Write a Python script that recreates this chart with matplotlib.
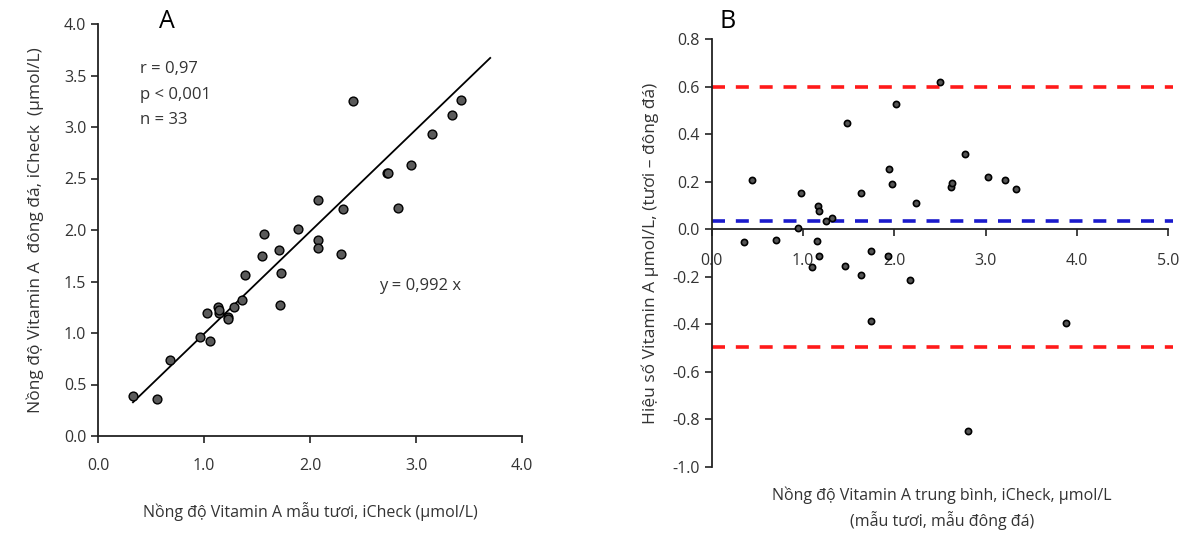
import numpy as np
import matplotlib
matplotlib.use("Agg")
import matplotlib.pyplot as plt

plt.rcParams['font.family'] = ['Open Sans', 'DejaVu Sans']

# Panel A: fresh vs frozen (umol/L)
fresh = [0.33, 0.56, 0.68, 0.96, 1.06, 1.03, 1.13, 1.14, 1.23, 1.23, 1.28,
         1.36, 1.39, 1.55, 1.57, 1.71, 1.73, 1.72, 1.89, 2.08, 2.08, 2.08,
         2.29, 2.31, 2.41, 2.73, 2.74, 2.83, 2.95, 3.15, 3.34, 3.42, 1.14]
frozen = [0.39, 0.36, 0.74, 0.96, 0.92, 1.19, 1.25, 1.19, 1.16, 1.14, 1.25,
          1.32, 1.56, 1.75, 1.96, 1.81, 1.58, 1.27, 2.01, 2.29, 1.90, 1.83,
          1.77, 2.20, 3.25, 2.55, 2.55, 2.21, 2.63, 2.93, 3.12, 3.26, 1.22]
slope = 0.992
fit_range = [0.33, 3.7]

# Panel B: Bland-Altman
mean_val = [0.35, 0.445, 0.70, 0.94, 0.975, 1.095, 1.15, 1.16, 1.18, 1.18,
            1.25, 1.32, 1.46, 1.48, 1.64, 1.64, 1.74, 1.75, 1.93, 1.945,
            1.975, 2.015, 2.17, 2.24, 2.50, 2.62, 2.635, 2.77, 2.81, 3.03,
            3.215, 3.33, 3.88]
diff_val = [-0.055, 0.209, -0.046, 0.007, 0.154, -0.16, -0.05, 0.10, 0.077,
            -0.114, 0.035, 0.048, -0.156, 0.449, 0.154, -0.19, -0.093, -0.384,
            -0.111, 0.255, 0.189, 0.526, -0.215, 0.112, 0.619, 0.180, 0.195,
            0.317, -0.849, 0.220, 0.209, 0.170, -0.393]
upper_loa = 0.598
mean_diff = 0.036
lower_loa = -0.497

txt_col = '#333333'

fig = plt.figure(figsize=(11.86, 5.34), dpi=100)

# ---- A ----
axA = fig.add_axes([98/1186, 1-436/534, 424/1186, 412/534])
axA.scatter(fresh, frozen, s=40, facecolor='#5a5a5a', edgecolor='black', linewidth=1.0, zorder=3)
xs = np.array(fit_range)
axA.plot(xs, slope*xs, color='black', lw=1.3)
axA.set_xlim(0, 4)
axA.set_ylim(0, 4)
axA.set_xticks(np.arange(0, 4.01, 1.0))
axA.set_yticks(np.arange(0, 4.01, 0.5))
axA.set_xticklabels(['%.1f' % v for v in np.arange(0, 4.01, 1.0)])
axA.set_yticklabels(['%.1f' % v for v in np.arange(0, 4.01, 0.5)])
for s in ['top', 'right']:
    axA.spines[s].set_visible(False)
for s in ['left', 'bottom']:
    axA.spines[s].set_linewidth(1.3)
    axA.spines[s].set_color('#222222')
axA.tick_params(labelsize=11.5, length=5, width=1.2, color='#222222', labelcolor=txt_col)
axA.tick_params(axis='x', pad=11)
axA.set_xlabel('Nồng độ Vitamin A mẫu tươi, iCheck (µmol/L)', fontsize=11.5, color=txt_col, labelpad=20)
axA.set_ylabel('Nồng độ Vitamin A  đông đá, iCheck  (µmol/L)', fontsize=12.5, color=txt_col, labelpad=14)
axA.text(0.4, 3.56, 'r = 0,97', fontsize=12, color=txt_col, va='center')
axA.text(0.4, 3.31, 'p < 0,001', fontsize=12, color=txt_col, va='center')
axA.text(0.4, 3.07, 'n = 33', fontsize=12, color=txt_col, va='center')
axA.text(2.65, 1.46, 'y = 0,992 x', fontsize=12, color=txt_col, va='center')
fig.text(167/1186, 1-22/534, 'A', fontsize=18, ha='center', va='center')

# ---- B ----
axB = fig.add_axes([711.7/1186, 1-467/534, 456.5/1186, 427.7/534])
axB.scatter(mean_val, diff_val, s=20, facecolor='#555555', edgecolor='black', linewidth=1.2, zorder=3)
for lvl, col in [(upper_loa, '#ff1a1a'), (lower_loa, '#ff1a1a'), (mean_diff, '#1a1acc')]:
    axB.plot([0, 5.05], [lvl, lvl], color=col, lw=2.6, dashes=(3.6, 3.0), clip_on=False)
axB.set_xlim(0, 5)
axB.set_ylim(-1.0, 0.8)
axB.set_xticks(np.arange(0, 5.01, 1.0))
axB.set_xticklabels(['%.1f' % v for v in np.arange(0, 5.01, 1.0)])
yt = np.arange(-1.0, 0.81, 0.2)
axB.set_yticks(yt)
axB.set_yticklabels(['%.1f' % (0.0 if abs(v) < 1e-9 else v) for v in yt])
axB.spines['bottom'].set_position(('data', 0))
for s in ['top', 'right']:
    axB.spines[s].set_visible(False)
for s in ['left', 'bottom']:
    axB.spines[s].set_linewidth(1.3)
    axB.spines[s].set_color('#222222')
axB.tick_params(labelsize=11.5, length=5, width=1.2, color='#222222', labelcolor=txt_col)
axB.tick_params(axis='x', pad=12)
axB.set_ylabel('Hiệu số Vitamin A µmol/L, (tươi – đông đá)', fontsize=12.5, color=txt_col, labelpad=10)
fig.text(942/1186, 1-495/534, 'Nồng độ Vitamin A trung bình, iCheck, µmol/L',
         fontsize=11.5, color=txt_col, ha='center', va='center')
fig.text(942/1186, 1-521/534, '(mẫu tươi, mẫu đông đá)',
         fontsize=11.5, color=txt_col, ha='center', va='center')
fig.text(728/1186, 1-22/534, 'B', fontsize=18, ha='center', va='center')

fig.savefig('out.png', dpi=100)
